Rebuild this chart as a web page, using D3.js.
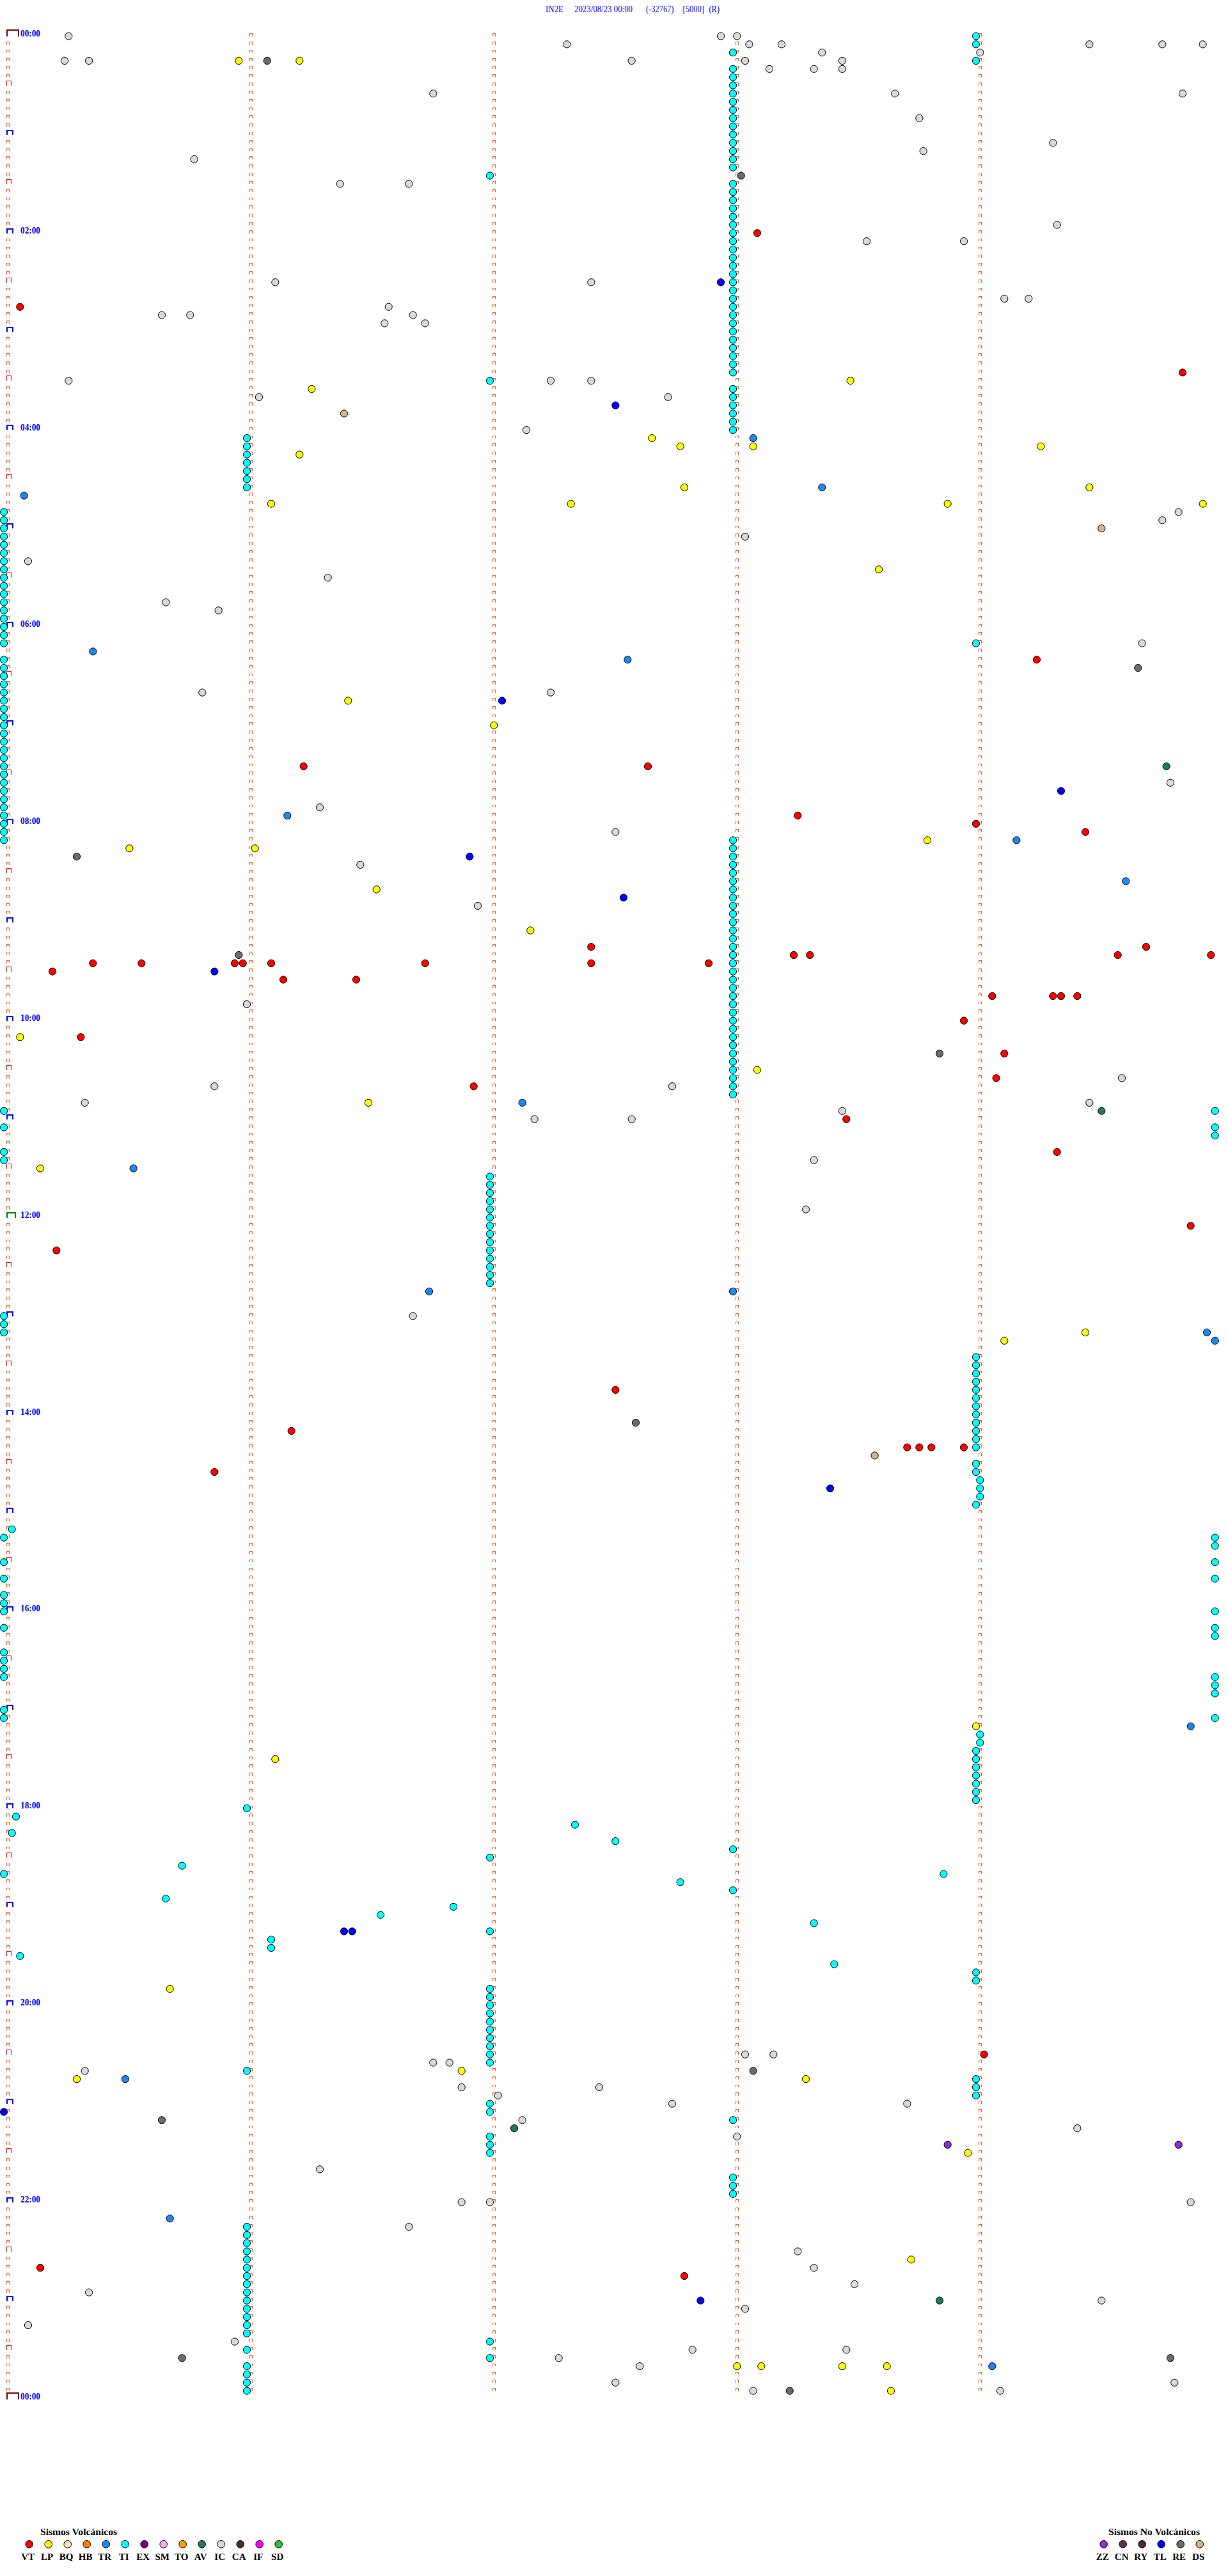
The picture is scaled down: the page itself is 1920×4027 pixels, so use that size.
<!DOCTYPE html>
<html><head><meta charset="utf-8">
<script src="https://cdn.jsdelivr.net/npm/d3@7"></script>
<style>html,body{margin:0;padding:0;background:#fff}svg{display:block}</style>
</head><body>
<script>
// ---------------- DATA ----------------
const titleParts = ["IN2E", "2023/08/23 00:00", "(-32767)", "[5000]", "(R)"];
const hourLabels = ["00:00","02:00","04:00","06:00","08:00","10:00","12:00","14:00","16:00","18:00","20:00","22:00","00:00"];
const volcanicTitle = "Sismos Volcánicos";
const nonVolcanicTitle = "Sismos No Volcánicos";
const volcanicTypes  = ["VT","LP","BQ","HB","TR","TI","EX","SM","TO","AV","IC","CA","IF","SD"];
const volcanicColors = ["#ff0000","#ffff00","#f2e6b0","#ff8000","#1e88f0","#00ffff","#800080","#f0b0ec","#ffa000","#1f7a5c","#d9d9d9","#4a2a48","#ff00ff","#30c030"];
const nonVolcanicTypes  = ["ZZ","CN","RY","TL","RE","DS"];
const nonVolcanicColors = ["#8a30d8","#553355","#4e2446","#0000ff","#6b6b6b","#d2b48c"];

// event times (HH:MM:SS) per type, read from the helicorder
const VT = ["02:45:04","02:03:06","03:29:51","07:26:14","09:17:25","09:27:25","09:30:12","09:25:22","09:25:34","09:25:57",
  "09:25:59","09:26:06","09:26:44","09:36:09","09:36:27","10:10:19","10:41:56","06:24:15","07:27:39","07:58:16",
  "08:04:00","08:09:27","09:27:54","09:23:15","09:23:19","09:24:35","09:19:42","09:24:58","09:49:04","09:49:19",
  "09:49:21","09:49:25","10:03:57","10:24:07","10:39:05","11:03:28","11:24:20","12:20:13","13:47:31","14:11:11",
  "14:35:52","12:09:53","14:23:57","14:23:49","14:23:46","14:23:43","22:40:09","20:34:02","22:47:48"];
const LP = ["00:15:58","00:16:13","03:36:16","04:16:13","04:46:06","04:47:20","03:33:29","04:07:40","04:12:47","04:13:05",
  "04:14:16","04:37:48","04:39:28","04:48:53","04:49:56","05:28:36","06:46:25","07:02:01","08:15:31","08:16:02",
  "08:41:32","09:07:10","10:10:04","10:51:30","11:30:09","08:13:48","10:33:06","17:31:07","13:19:07","13:14:27",
  "17:14:00","19:50:41","20:41:53","20:45:18","20:48:18","21:33:58","22:38:44","23:43:01","23:43:07","23:43:27",
  "23:43:38","23:58:39"];
const TR = ["04:40:05","04:08:05","04:38:22","06:15:22","07:56:10","10:52:08","11:30:32","06:22:34","08:14:10","08:39:37",
  "12:46:45","12:48:00","13:14:57","13:19:59","17:14:53","20:45:30","22:10:41","23:44:04"];
const TI = [
  "04:50:00","04:55:00","05:00:00","05:05:00","05:10:00","05:15:00","05:20:00","05:25:00","05:30:00","05:35:00",
  "05:40:00","05:45:00","05:50:00","05:55:00","06:00:00","06:05:00","06:10:00",
  "06:20:00","06:25:00","06:30:00","06:35:00","06:40:00","06:45:00","06:50:00","06:55:00","07:00:00","07:05:00",
  "07:10:00","07:15:00","07:20:00","07:25:00","07:30:00","07:35:00","07:40:00","07:45:00","07:50:00","07:55:00",
  "08:00:00","08:05:00","08:10:00",
  "10:55:00","11:05:00","11:20:00","11:25:00","13:00:00","13:05:00","13:10:00",
  "15:10:02","15:15:00","15:30:00","15:40:00","15:50:00","15:55:00","16:00:00","16:10:00","16:25:00","16:30:00",
  "16:35:00","16:40:00","17:00:00","17:05:00","18:05:03","18:15:02","18:40:00","19:30:04",
  "04:06:00","04:11:00","04:16:00","04:21:00","04:26:00","04:31:00","04:36:00",
  "18:01:00","19:21:06","19:26:06","20:41:00",
  "22:16:00","22:21:00","22:26:00","22:31:00","22:36:00","22:41:00","22:46:00","22:51:00","22:56:00","23:01:00",
  "23:06:00","23:11:00","23:16:00","23:21:00","23:31:00","23:41:00","23:46:00","23:51:00","23:56:00",
  "01:27:00","03:32:00",
  "11:37:00","11:42:00","11:47:00","11:52:00","11:57:00","12:02:00","12:07:00","12:12:00","12:17:00","12:22:00",
  "12:27:00","12:32:00","12:37:00","12:42:00","18:32:00","19:17:00",
  "19:52:00","19:57:00","20:02:00","20:07:00","20:12:00","20:17:00","20:22:00","20:27:00","20:32:00","20:37:00",
  "21:02:00","21:07:00","21:22:00","21:27:00","21:32:00","23:27:00","23:37:00",
  "00:13:00","00:23:00","00:28:00","00:33:00","00:38:00","00:43:00","00:48:00","00:53:00","00:58:00","01:03:00",
  "01:08:00","01:13:00","01:18:00","01:23:00",
  "01:33:00","01:38:00","01:43:00","01:48:00","01:53:00","01:58:00","02:03:00","02:08:00","02:13:00","02:18:00",
  "02:23:00","02:28:00","02:33:00","02:38:00","02:43:00","02:48:00","02:53:00","02:58:00","03:03:00","03:08:00",
  "03:13:00","03:18:00","03:23:00","03:28:00",
  "03:38:00","03:43:00","03:48:00","03:53:00","03:58:00","04:03:00",
  "08:13:00","08:18:00","08:23:00","08:28:00","08:33:00","08:38:00","08:43:00","08:48:00","08:53:00","08:58:00",
  "09:03:00","09:08:00","09:13:00","09:18:00","09:23:00","09:28:00","09:33:00","09:38:00","09:43:00","09:48:00",
  "09:53:00","09:58:00","10:03:00","10:08:00","10:13:00","10:18:00","10:23:00","10:28:00","10:33:00","10:38:00",
  "10:43:00","10:48:00",
  "18:28:00","18:53:00","21:13:00","21:48:00","21:53:00","21:58:00",
  "00:04:00","00:09:00","00:19:00","06:14:00",
  "13:29:00","13:34:00","13:39:00","13:44:00","13:49:00","13:54:00","13:59:00","14:04:00","14:09:00","14:14:00",
  "14:19:00","14:24:00","14:34:00","14:39:00","14:44:01","14:49:01","14:54:01","14:59:00",
  "17:19:01","17:24:01","17:29:00","17:34:00","17:39:00","17:44:00","17:49:00","17:54:00","17:59:00",
  "19:44:00","19:49:00","20:49:00","20:54:00","20:59:00",
  "10:59:59","11:09:59","11:14:59","15:19:59","15:24:59","15:34:59","15:44:59","16:04:59","16:14:59","16:19:59",
  "16:44:59","16:49:59","16:54:59","17:09:59",
  "18:12:21","18:22:31","18:35:44","18:43:52","18:47:47","18:55:40","19:01:51","19:06:33","19:13:20","19:38:25"];
const AV = ["07:29:47","10:59:31","21:17:06","23:03:51"];
const IC = ["00:00:16","00:15:15","00:15:21","00:07:19","00:36:46","01:15:47","01:31:23","01:31:40","02:31:07","02:32:25",
  "02:50:39","02:50:46","02:46:35","02:51:41","02:56:34","02:56:44","03:30:16","03:32:15","03:32:25","03:41:03",
  "04:02:09","05:20:06","05:31:20","05:45:40","05:50:53",
  "00:02:57","00:03:01","00:08:04","00:08:12","00:13:22","00:18:27","00:17:35","00:18:03","00:23:09","00:23:20",
  "00:23:27","00:14:01","00:38:40","00:53:46","01:13:47","02:08:33","02:08:57","01:09:19","01:59:20","02:44:07",
  "02:44:13","00:09:28","00:09:46","00:09:56","00:39:51","03:42:44","04:54:50","04:59:46","05:08:03",
  "06:40:49","06:42:15","07:51:18","08:26:28","08:51:57","09:51:00","10:40:52","10:50:20","11:02:11",
  "06:14:41","07:39:48","08:07:31","10:39:36","10:42:45","10:54:28","11:02:35","10:58:27","11:28:20","11:58:18",
  "13:01:41",
  "20:36:46","20:36:50","20:40:20","20:51:53","20:57:02","20:52:27","21:12:08","21:41:18","22:01:53","22:02:00",
  "22:16:40","22:55:21","23:15:06","23:25:57","23:37:17",
  "20:33:03","20:33:10","21:02:45","21:03:43","21:23:01","21:19:25","22:04:53","22:33:16","22:43:20","22:53:30",
  "23:04:31","23:08:03","23:32:50","23:33:28","23:42:37","23:52:31","23:54:49","23:58:05","23:59:06"];
const ZZ = ["21:28:53","21:29:50"];
const TL = ["03:47:31","02:32:57","06:47:03","08:21:55","09:30:52","07:44:21","08:47:33","14:48:24","19:16:24","19:16:26",
  "21:05:00","23:02:52"];
const RE = ["00:16:05","01:28:02","08:20:18","09:20:58","06:29:40","10:23:51","14:07:36","21:10:39","23:35:44","20:43:05",
  "23:39:48","23:58:14"];
const DS = ["03:51:24","05:04:31","14:28:35"];

// ---------------- DRAWING ----------------
const W = 1920, H = 4027;
const ROWS = 288;            // 5-minute lines over 24 h
const BLOCK = 300;           // seconds per line
const svg = d3.select("body").append("svg").attr("width", W).attr("height", H);

const y = d3.scaleLinear().domain([0, ROWS]).range([56.5, 56.5 + ROWS * 12.826]);
const x = d3.scaleLinear().domain([0, BLOCK]).range([6, 1906]);

const colorOf = {};
volcanicTypes.forEach((t, i) => colorOf[t] = volcanicColors[i]);
nonVolcanicTypes.forEach((t, i) => colorOf[t] = nonVolcanicColors[i]);

function parse(t) {
  const [h, m, s] = t.split(":").map(Number);
  const T = h * 3600 + m * 60 + s;
  return { row: Math.floor(T / BLOCK), sec: T % BLOCK };
}

// row tick markers
function markerPath(xl, yb, w, h, sw) {
  const a = xl + sw / 2, b = xl + w - sw / 2, top = yb - h + sw / 2;
  return `M${a},${yb}V${top}H${b}V${yb}`;
}
const markers = [];
for (let r = 0; r <= ROWS; r++) {
  let st;
  if (r === 0 || r === ROWS) st = { w: 20, h: 10.5, sw: 2, c: "#800000" };
  else if (r === 144) st = { w: 14.5, h: 9, sw: 2, c: "#008000" };
  else if (r % 12 === 0) st = { w: 11.2, h: 8, sw: 2, c: "#0000ff" };
  else if (r % 6 === 0) st = { w: 8.4, h: 8, sw: 1, c: "#ff0000" };
  else st = { w: 5.3, h: 4.7, sw: 1, c: "#ff5a1e" };
  markers.push({ r, m: 0, ...st });
  if (r < ROWS) for (let m = 1; m <= 4; m++) markers.push({ r, m, w: 5.3, h: 4.7, sw: 1, c: "#ff5a1e" });
}
svg.append("g").selectAll("path").data(markers).join("path")
  .attr("d", d => markerPath(x(d.m * 60) + 4, y(d.r) + 0.3, d.w, d.h, d.sw))
  .attr("fill", "none").attr("stroke", d => d.c).attr("stroke-width", d => d.sw)
  .attr("shape-rendering", "crispEdges");

// hour labels every 2 h
svg.append("g").selectAll("text").data(hourLabels).join("text")
  .attr("x", 32).attr("y", (d, i) => y(i * 24) + 0.4)
  .attr("font-family", "'Liberation Serif','Times New Roman',serif")
  .attr("font-weight", "bold").attr("font-size", 14.5)
  .attr("textLength", 31).attr("lengthAdjust", "spacingAndGlyphs")
  .attr("fill", "#0000ff").text(d => d);

// title
const titleX = [853, 898, 1010, 1067.5, 1108.5];
const titleW = [28, 91, 43.5, 33.3, 16.5];
svg.append("g").selectAll("text").data(titleParts).join("text")
  .attr("x", (d, i) => titleX[i]).attr("y", 18.5)
  .attr("font-family", "'Liberation Serif','Times New Roman',serif")
  .attr("font-size", 15)
  .attr("textLength", (d, i) => titleW[i]).attr("lengthAdjust", "spacingAndGlyphs")
  .attr("fill", "#0000ff").text(d => d);

// events
const series = { IC, RE, DS, AV, ZZ, LP, TR, TL, VT, TI };
const events = [];
Object.entries(series).forEach(([type, arr]) => arr.forEach(t => events.push({ type, ...parse(t) })));
svg.append("g").selectAll("circle").data(events).join("circle")
  .attr("cx", d => x(d.sec)).attr("cy", d => y(d.row))
  .attr("r", 5.6).attr("fill", d => colorOf[d.type])
  .attr("stroke", "#000").attr("stroke-width", 1);

// legends
function legend(title, types, titleX, firstX) {
  const g = svg.append("g");
  g.append("text").attr("x", titleX).attr("y", 3962.5)
    .attr("font-family", "'Liberation Serif','Times New Roman',serif")
    .attr("font-weight", "bold").attr("font-size", 15.6).attr("fill", "#000").text(title);
  const lx = d3.scaleLinear().domain([0, 1]).range([firstX, firstX + 30]);
  g.selectAll("circle").data(types).join("circle")
    .attr("cx", (d, i) => lx(i)).attr("cy", 3977.3).attr("r", 5.8)
    .attr("fill", d => colorOf[d]).attr("stroke", "#000").attr("stroke-width", 1);
  g.selectAll("text.lab").data(types).join("text").attr("class", "lab")
    .attr("x", (d, i) => lx(i) - 2).attr("y", 4002.3).attr("text-anchor", "middle")
    .attr("font-family", "'Liberation Serif','Times New Roman',serif")
    .attr("font-weight", "bold").attr("font-size", 15).attr("fill", "#000").text(d => d);
}
legend(volcanicTitle, volcanicTypes, 63, 45.7);
legend(nonVolcanicTitle, nonVolcanicTypes, 1733, 1725.7);
</script>
</body></html>
